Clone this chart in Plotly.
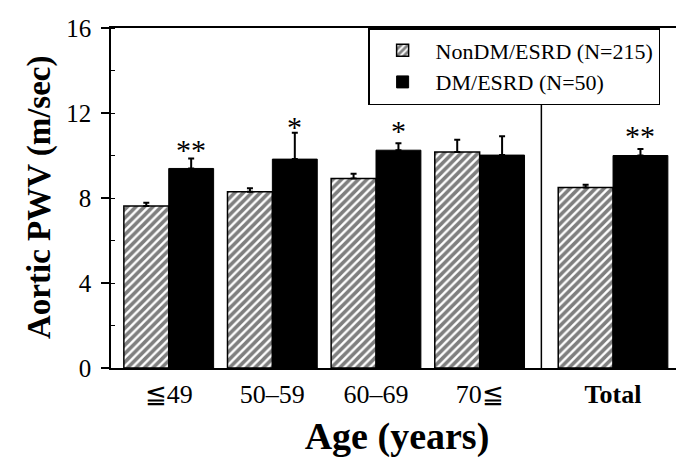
import plotly.graph_objects as go

categories = ["≦49", "50–59", "60–69", "70≦", "Total"]
nondm = [7.62, 8.29, 8.92, 10.16, 8.50]
nondm_err = [0.16, 0.17, 0.22, 0.58, 0.12]
dm = [9.39, 9.83, 10.25, 10.02, 10.00]
dm_err = [0.47, 1.24, 0.33, 0.89, 0.31]
signif = ["**", "*", "*", "", "**"]
signif_y = [10.56, 11.64, 11.45, None, 11.23]
y_ticks = [0, 4, 8, 12, 16]

# layout of groups (positions along a numeric x axis)
group_pos = [0, 1, 2, 3, 4.287]
bar_w = [0.433, 0.433, 0.433, 0.433, 0.529]

FONT = "Liberation Serif"

fig = go.Figure()
fig.add_trace(go.Bar(
    x=group_pos, y=nondm, width=bar_w, offset=[-w for w in bar_w],
    name="NonDM/ESRD (N=215)",
    marker=dict(color="white", line=dict(color="black", width=1.5),
                pattern=dict(shape="/", fgcolor="black", bgcolor="white",
                             size=6, solidity=0.6)),
    error_y=dict(type="data", symmetric=False, array=nondm_err,
                 arrayminus=[0] * len(nondm), color="black", thickness=2, width=3),
))
fig.add_trace(go.Bar(
    x=group_pos, y=dm, width=bar_w, offset=[0] * len(bar_w),
    name="DM/ESRD (N=50)",
    marker=dict(color="black", line=dict(color="black", width=1)),
    error_y=dict(type="data", symmetric=False, array=dm_err,
                 arrayminus=[0] * len(dm), color="black", thickness=2, width=3),
))

for xp, w, s, sy in zip(group_pos, bar_w, signif, signif_y):
    if s:
        fig.add_annotation(x=xp + w / 2, y=sy, text=s, showarrow=False,
                           yanchor="middle", yshift=-6,
                           font=dict(family=FONT, size=30, color="black"))

# y-axis title as a rotated annotation (placed further left than axis title allows)
fig.add_annotation(x=0, y=0.5, xref="paper", yref="paper", xshift=-72,
                   text="<b>Aortic PWV (m/sec)</b>", textangle=-90, showarrow=False,
                   xanchor="center", yanchor="middle",
                   font=dict(family=FONT, size=33, color="black"))

# separator between age groups and Total
sep_x = ((group_pos[3] + bar_w[3]) + (group_pos[4] - bar_w[4])) / 2
fig.add_shape(type="line", x0=sep_x, x1=sep_x, y0=0, y1=1, yref="paper",
              line=dict(color="black", width=1.5))

ticktext = categories[:-1] + ["<b>" + categories[-1] + "</b>"]

fig.update_layout(
    width=684, height=466,
    margin=dict(l=103, r=7, t=20, b=106),
    plot_bgcolor="white", paper_bgcolor="white",
    barmode="overlay",
    font=dict(family=FONT, color="black"),
    showlegend=True,
    legend=dict(x=0.96, y=1.0, xanchor="right", yanchor="top",
                bordercolor="black", borderwidth=1.5, bgcolor="white",
                font=dict(family=FONT, size=22, color="black"), tracegroupgap=0,
                itemwidth=56),
    xaxis=dict(
        range=[-0.557, 4.962], tickmode="array", tickvals=group_pos,
        ticktext=ticktext, ticks="", showgrid=False, zeroline=False,
        showline=True, linecolor="black", linewidth=1.5, mirror=True,
        tickfont=dict(family=FONT, size=26, color="black"), ticklabelstandoff=2,
        title=dict(text="<b>Age (years)</b>", font=dict(family=FONT, size=38, color="black"),
                   standoff=14),
    ),
    yaxis=dict(
        range=[0, 16], tickmode="array", tickvals=y_ticks, ticks="outside",
        ticklen=8, tickwidth=1.5, tickcolor="black",
        minor=dict(ticks="inside", dtick=2, ticklen=4, tickcolor="black", tickwidth=1),
        showgrid=False, zeroline=False, showline=True, linecolor="black",
        linewidth=1.5, mirror=True, ticklabelstandoff=5,
        tickfont=dict(family=FONT, size=25, color="black"),
    ),
)

fig.write_html("out.html")
